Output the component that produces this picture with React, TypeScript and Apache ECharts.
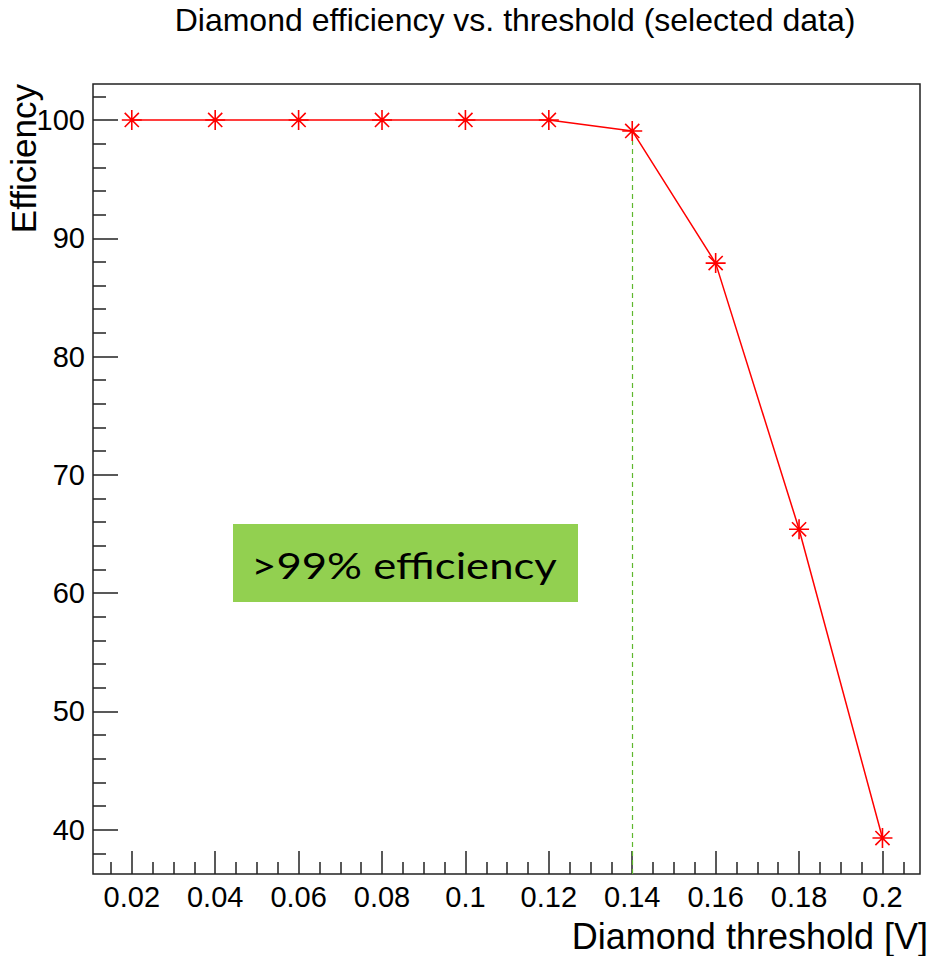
import React, { useEffect, useRef } from "react";
import * as echarts from "echarts";

const thresholds = [0.02, 0.04, 0.06, 0.08, 0.1, 0.12, 0.14, 0.16, 0.18, 0.2];
const efficiency = [100, 100, 100, 100, 100, 100, 99.07, 87.9, 65.4, 39.3];
const xMajorTicks = [0.02, 0.04, 0.06, 0.08, 0.1, 0.12, 0.14, 0.16, 0.18, 0.2];
const xMinorTicks = [
  0.015, 0.025, 0.03, 0.035, 0.045, 0.05, 0.055, 0.065, 0.07, 0.075, 0.085, 0.09, 0.095,
  0.105, 0.11, 0.115, 0.125, 0.13, 0.135, 0.145, 0.15, 0.155, 0.165, 0.17, 0.175, 0.185,
  0.19, 0.195, 0.205,
];
const yMajorTicks = [40, 50, 60, 70, 80, 90, 100];
const yMinorTicks = [
  38, 42, 44, 46, 48, 52, 54, 56, 58, 62, 64, 66, 68, 72, 74, 76, 78, 82, 84, 86, 88, 92,
  94, 96, 98, 102,
];
const cutThreshold = 0.14;
const cutEfficiency = 99.07;

const X_MIN = 0.0107;
const X_MAX = 0.209;
const Y_MIN = 36.26;
const Y_MAX = 103.04;

const FONT = "'Liberation Sans', Arial, Helvetica, sans-serif";
const AXIS_COLOR = "#222";

const starPath =
  "path://M0,-10L0,10M-10,0L10,0M-7.07,-7.07L7.07,7.07M-7.07,7.07L7.07,-7.07";

export default function App() {
  const ref = useRef<HTMLDivElement>(null);
  useEffect(() => {
    if (!ref.current) return;
    const chart = echarts.init(ref.current, undefined, { renderer: "svg" });
    const tickStyle = { color: AXIS_COLOR, width: 1.5 };
    chart.setOption({
      animation: false,
      backgroundColor: "#ffffff",
      grid: {
        left: 93,
        top: 84,
        right: 12,
        bottom: 82,
        show: true,
        borderColor: AXIS_COLOR,
        borderWidth: 1.5,
        containLabel: false,
      },
      xAxis: [
        {
          type: "value",
          min: X_MIN,
          max: X_MAX,
          position: "bottom",
          axisLine: { show: false },
          splitLine: { show: false },
          axisTick: {
            show: true,
            inside: true,
            length: 23,
            lineStyle: tickStyle,
            customValues: xMajorTicks,
          },
          axisLabel: {
            show: true,
            customValues: xMajorTicks,
            fontSize: 29,
            fontFamily: FONT,
            color: "#000",
            margin: 8,
            formatter: (v: number) => String(parseFloat(v.toFixed(3))),
          },
        },
        {
          type: "value",
          min: X_MIN,
          max: X_MAX,
          position: "bottom",
          axisLine: { show: false },
          splitLine: { show: false },
          axisTick: {
            show: true,
            inside: true,
            length: 12,
            lineStyle: tickStyle,
            customValues: xMinorTicks,
          },
          axisLabel: { show: false },
        },
      ],
      yAxis: [
        {
          type: "value",
          min: Y_MIN,
          max: Y_MAX,
          position: "left",
          axisLine: { show: false },
          splitLine: { show: false },
          axisTick: {
            show: true,
            inside: true,
            length: 25,
            lineStyle: tickStyle,
            customValues: yMajorTicks,
          },
          axisLabel: {
            show: true,
            customValues: yMajorTicks,
            fontSize: 29,
            fontFamily: FONT,
            color: "#000",
            margin: 8,
          },
        },
        {
          type: "value",
          min: Y_MIN,
          max: Y_MAX,
          position: "left",
          axisLine: { show: false },
          splitLine: { show: false },
          axisTick: {
            show: true,
            inside: true,
            length: 13,
            lineStyle: tickStyle,
            customValues: yMinorTicks,
          },
          axisLabel: { show: false },
        },
      ],
      series: [
        {
          type: "line",
          xAxisIndex: 0,
          yAxisIndex: 0,
          data: thresholds.map((t, i) => [t, efficiency[i]]),
          symbol: starPath,
          symbolSize: 20,
          lineStyle: { color: "#ff0000", width: 1.5 },
          itemStyle: { color: "#ff0000", borderColor: "#ff0000", borderWidth: 1.6 },
          z: 5,
          markLine: {
            silent: true,
            symbol: ["none", "none"],
            label: { show: false },
            lineStyle: { color: "#5fb82e", type: [5, 4], width: 1.2 },
            data: [
              [
                { coord: [cutThreshold, cutEfficiency] },
                { coord: [cutThreshold, Y_MIN] },
              ],
            ],
          },
        },
      ],
      graphic: [
        {
          type: "text",
          x: 515,
          y: 20,
          style: {
            text: "Diamond efficiency vs. threshold (selected data)",
            fontSize: 32,
            fontFamily: FONT,
            fill: "#000",
            textAlign: "center",
            textVerticalAlign: "middle",
          },
        },
        {
          type: "text",
          x: 928,
          y: 936,
          style: {
            text: "Diamond threshold [V]",
            fontSize: 36,
            fontFamily: FONT,
            fill: "#000",
            textAlign: "right",
            textVerticalAlign: "middle",
          },
        },
        {
          type: "text",
          x: 23,
          y: 84,
          rotation: Math.PI / 2,
          style: {
            text: "Efficiency",
            fontSize: 35,
            fontFamily: FONT,
            fill: "#000",
            textAlign: "right",
            textVerticalAlign: "middle",
          },
        },
        {
          type: "group",
          x: 233,
          y: 524,
          children: [
            {
              type: "rect",
              shape: { x: 0, y: 0, width: 345, height: 78 },
              style: { fill: "#92d050" },
            },
            {
              type: "text",
              x: 171,
              y: 41,
              scaleX: 1.18,
              style: {
                text: ">99% efficiency",
                fontSize: 37,
                fontFamily: "Lato, 'Open Sans', sans-serif",
                fill: "#000",
                textAlign: "center",
                textVerticalAlign: "middle",
              },
            },
          ],
        },
      ],
    });
    return () => chart.dispose();
  }, []);
  return (
    <div
      ref={ref}
      style={{ position: "fixed", left: 0, top: 0, width: 932, height: 956, background: "#fff" }}
    />
  );
}
